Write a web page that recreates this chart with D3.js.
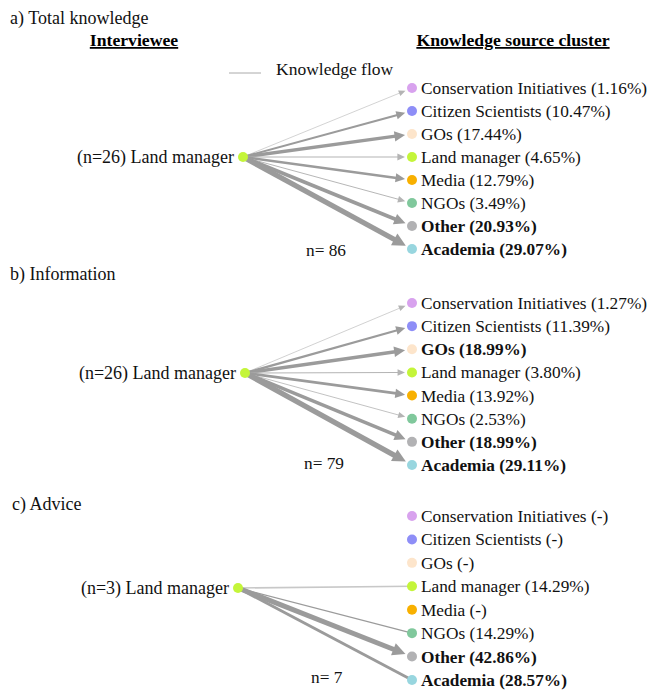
<!DOCTYPE html>
<html><head><meta charset="utf-8">
<script src="https://cdn.jsdelivr.net/npm/d3@7"></script>
<style>body{margin:0;background:#fff}svg{display:block}text{font-family:"Liberation Serif","Times New Roman",Times,serif}</style>
</head><body>
<script>
const categories = ["Conservation Initiatives","Citizen Scientists","GOs","Land manager","Media","NGOs","Other","Academia"];
const colors = ["#d8a2ee","#8e8ef7","#fde5cb","#c4f53a","#f8b000","#80c89c","#b2b2b4","#98d6df"];
const totalPct = [1.16, 10.47, 17.44, 4.65, 12.79, 3.49, 20.93, 29.07];
const infoPct  = [1.27, 11.39, 18.99, 3.80, 13.92, 2.53, 18.99, 29.11];
const advicePct = [null, null, null, 14.29, null, 14.29, 42.86, 28.57];
const panelTitles = ["a) Total knowledge","b) Information","c) Advice"];
const respondents = [26, 26, 3];
const totals = [86, 79, 7];
const boldSets = [["Other","Academia"],["GOs","Other","Academia"],["Other","Academia"]];

const W = 654, H = 698;
const FS_LABEL = 17.3, FS_TITLE = 18, FS_HEAD = 17.7, FS_SRC = 18, FS_LEG = 17.5;
const svg = d3.select("body").append("svg").attr("width", W).attr("height", H);

const layout = [
  {titleY: 24, y0: 88, y1: 249, sx: 243, sy: 157, nx: 306, ny: 256, arrows: true, titleX: 10},
  {titleY: 280, y0: 303, y1: 465, sx: 245, sy: 373, nx: 304, ny: 469, arrows: true, titleX: 10},
  {titleY: 510, y0: 516, y1: 680, sx: 238, sy: 588, nx: 311, ny: 683, arrows: false, titleX: 12}
];
const nodeX = 412;
const pcts = [totalPct, infoPct, advicePct];

svg.append("text").attr("x", 134).attr("y", 46).attr("text-anchor","middle")
  .attr("font-size", FS_HEAD).attr("font-weight","bold").attr("text-decoration","underline").text("Interviewee");
svg.append("text").attr("x", 513).attr("y", 46).attr("text-anchor","middle")
  .attr("font-size", FS_HEAD).attr("font-weight","bold").attr("text-decoration","underline").text("Knowledge source cluster");
svg.append("line").attr("x1",229).attr("x2",261).attr("y1",73).attr("y2",73).attr("stroke","#aaa").attr("stroke-width",1);
svg.append("text").attr("x",276).attr("y",75).attr("font-size",FS_LEG).attr("fill","#111").text("Knowledge flow");

pcts.forEach((vals, pi) => {
  const L = layout[pi];
  const g = svg.append("g");
  g.append("text").attr("x", L.titleX).attr("y", L.titleY).attr("font-size", FS_TITLE).attr("fill","#111").text(panelTitles[pi]);
  const y = d3.scalePoint().domain(categories).range([L.y0, L.y1]);
  const maxV = d3.max(vals);
  const w = pi === 2
    ? d3.scalePow().exponent(1.5).domain([0, maxV]).range([0.4, 5])
    : d3.scaleLinear().domain([0, maxV]).range([0.4, 5.2]);
  const data = categories.map((c, i) => ({c, v: vals[i], col: colors[i]}));
  data.filter(d => d.v != null).forEach(d => {
    const tx = nodeX, ty = y(d.c);
    const sw = w(d.v);
    const dx = tx - L.sx, dy = ty - L.sy, len = Math.hypot(dx, dy);
    const ux = dx / len, uy = dy / len;
    const useArrow = L.arrows || d.c === "Other";
    const tipGap = useArrow ? 7 : 0;
    const tipX = tx - ux * tipGap, tipY = ty - uy * tipGap;
    const aLen = useArrow ? 6 + sw * 1.4 : 0;
    const aHalf = 2.5 + sw * 0.8;
    const ex = tipX - ux * aLen * 0.9, ey = tipY - uy * aLen * 0.9;
    const light = (pi === 2 && d.c === "Land manager");
    const stroke = light ? "#c8c8c8" : (sw < 1.2 ? "#b4b4b4" : "#9b9b9b");
    g.append("line").attr("x1", L.sx).attr("y1", L.sy).attr("x2", ex).attr("y2", ey)
      .attr("stroke", stroke).attr("stroke-width", light ? 1.6 : sw);
    if (useArrow) {
      const bx = tipX - ux * aLen, by = tipY - uy * aLen;
      const px = -uy, py = ux;
      g.append("path").attr("d", `M${tipX},${tipY}L${bx + px*aHalf},${by + py*aHalf}L${bx - px*aHalf},${by - py*aHalf}Z`)
        .attr("fill", stroke);
    }
  });
  data.forEach(d => {
    g.append("circle").attr("cx", nodeX).attr("cy", y(d.c)).attr("r", 5).attr("fill", d.col);
    const bold = boldSets[pi].includes(d.c);
    const label = d.v == null ? `${d.c} (-)` : `${d.c} (${d.v.toFixed(2)}%)`;
    g.append("text").attr("x", nodeX + 9).attr("y", y(d.c) + 6).attr("font-size", FS_LABEL)
      .attr("font-weight", bold ? "bold" : "normal").attr("fill","#111").text(label);
  });
  g.append("circle").attr("cx", L.sx).attr("cy", L.sy).attr("r", 5).attr("fill", colors[3]);
  g.append("text").attr("x", L.sx - 9).attr("y", L.sy + 6).attr("text-anchor","end").attr("font-size",FS_SRC)
    .attr("fill","#111").text(`(n=${respondents[pi]}) Land manager`);
  g.append("text").attr("x", L.nx).attr("y", L.ny).attr("font-size",FS_LABEL).attr("fill","#111").text(`n= ${totals[pi]}`);
});
</script>
</body></html>
